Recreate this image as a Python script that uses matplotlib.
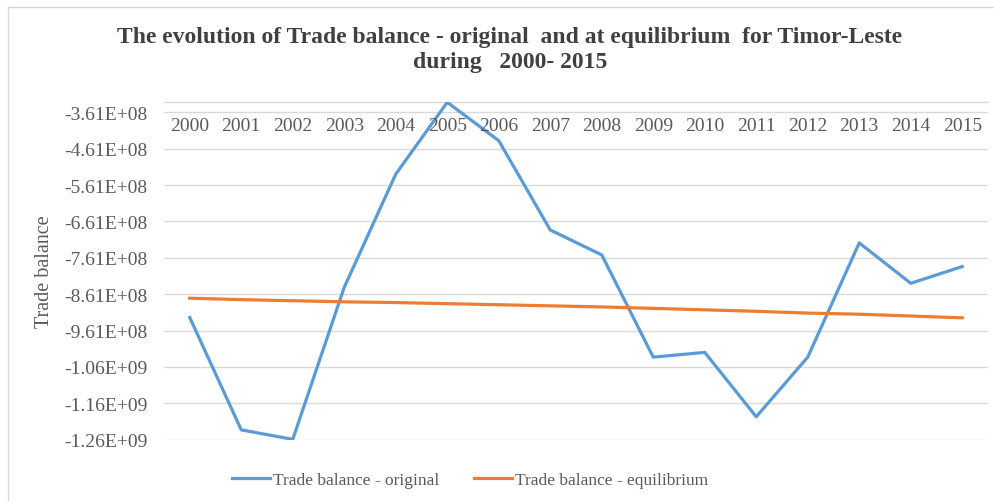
import matplotlib
matplotlib.use("Agg")
import matplotlib.pyplot as plt
from matplotlib.lines import Line2D

years = [str(y) for y in range(2000, 2016)]
tb_original = [-9.25e8, -1.234e9, -1.26e9, -8.42e8, -5.31e8, -3.335e8, -4.39e8, -6.845e8,
               -7.53e8, -1.034e9, -1.021e9, -1.198e9, -1.034e9, -7.20e8, -8.31e8, -7.85e8]
tb_equilibrium = [-8.72e8, -8.76e8, -8.79e8, -8.82e8, -8.84e8, -8.87e8, -8.90e8, -8.93e8,
                  -8.96e8, -9.00e8, -9.04e8, -9.08e8, -9.13e8, -9.16e8, -9.21e8, -9.26e8]
y_ticks = [-3.61e8 - k * 1e8 for k in range(10)]

plt.rcParams['font.family'] = ['Liberation Serif', 'DejaVu Serif']
grey = '#595959'
blue = '#5b9bd5'
orange = '#ed7d31'

fig = plt.figure(figsize=(9.95, 5.02), dpi=100)
ax = fig.add_axes([164 / 995, 1 - 440.7 / 502, (988 - 164) / 995, (440.7 - 103.3) / 502])

x = list(range(len(years)))
ax.plot(x, tb_original, color=blue, lw=2.3, zorder=3)
ax.plot(x, tb_equilibrium, color=orange, lw=2.3, zorder=3)

ax.set_xlim(-0.5, len(years) - 0.5)
ax.set_ylim(-1.261e9, max(tb_original))
ax.set_yticks(y_ticks)
ax.set_yticklabels(['%.2E' % v for v in y_ticks])
ax.tick_params(axis='y', length=0, pad=12, labelsize=14, labelcolor=grey)
ax.set_xticks([])
ax.grid(axis='y', color='#d9d9d9', lw=1)
ax.set_axisbelow(True)
for side in ['left', 'right', 'bottom']:
    ax.spines[side].set_visible(False)
ax.spines['top'].set_color('#d9d9d9')
ax.spines['top'].set_linewidth(1)

# category labels sit just under the top axis line
for i, yr in enumerate(years):
    ax.text(i, 1 - (126.5 - 103.3) / 337.4, yr, transform=ax.get_xaxis_transform(),
            ha='center', va='center', fontsize=14, color=grey)

fig.text(45 / 995, 1 - 272 / 502, 'Trade balance', rotation=90, ha='center', va='center',
         fontsize=14.5, color=grey)

fig.text(510 / 995, 1 - 50 / 502,
         'The evolution of Trade balance - original  and at equilibrium  for Timor-Leste\nduring   2000- 2015',
         ha='center', va='center', fontsize=17, fontweight='bold', color='#404040',
         linespacing=1.2)

handles = [Line2D([], [], color=blue, lw=2.3), Line2D([], [], color=orange, lw=2.3)]
fig.legend(handles, ['Trade balance - original', 'Trade balance - equilibrium'],
           loc='center', bbox_to_anchor=(470 / 995, 1 - 481 / 502), ncol=2, frameon=False,
           fontsize=12.5, handlelength=2.2, handletextpad=0.15, columnspacing=2.0,
           labelcolor=grey)

# chart frame edges
fig.add_artist(Line2D([8 / 995, 8 / 995], [0, 1 - 8 / 502], transform=fig.transFigure,
                      color='#d9d9d9', lw=1))
fig.add_artist(Line2D([8 / 995, 1], [1 - 8 / 502, 1 - 8 / 502], transform=fig.transFigure,
                      color='#d9d9d9', lw=1))

fig.savefig('out.png', dpi=100)
